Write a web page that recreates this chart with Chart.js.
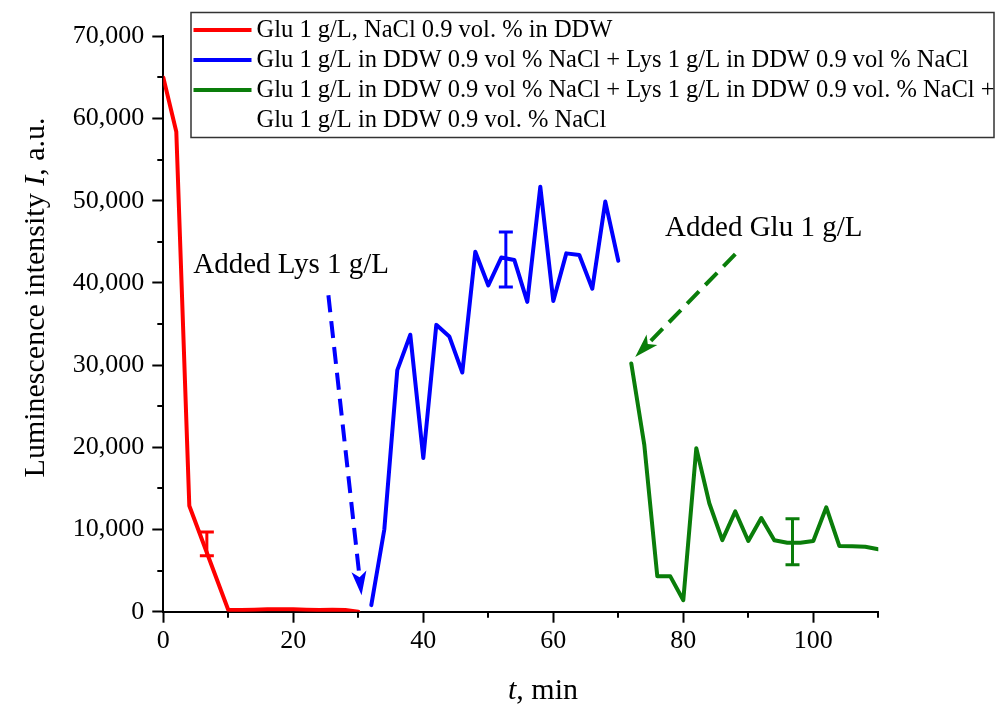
<!DOCTYPE html>
<html>
<head>
<meta charset="utf-8">
<script src="https://cdn.jsdelivr.net/npm/chart.js@4.4.1/dist/chart.umd.min.js"></script>
<style>
    html, body { margin: 0; padding: 0; background: #fff; }
    #chart { display: block; }
</style>
</head>
<body>
<canvas id="chart" width="995" height="713"></canvas>
<script>
// Time points (min) and luminescence intensity (a.u.) for each stage
const tRed = [0, 2, 4, 10, 12, 14, 16, 18, 20, 22, 24, 26, 28, 30];
const iRed = [65000, 58400, 12900, 200, 200, 250, 300, 300, 300, 250, 200, 250, 200, 0];

const tBlue = [32, 34, 36, 38, 40, 42, 44, 46, 48, 50, 52, 54, 56, 58, 60, 62, 64, 66, 68, 70];
const iBlue = [800, 10000, 29400, 33700, 18700, 34900, 33500, 29100, 43800, 39700,
               43100, 42800, 37700, 51700, 37800, 43600, 43400, 39300, 49900, 42700];

const tGreen = [72, 74, 76, 78, 80, 82, 84, 86, 88, 90, 92, 94, 96, 98, 100, 102, 104, 106, 108, 110];
const iGreen = [30200, 20300, 4300, 4300, 1400, 19900, 13200, 8700, 12200, 8600,
                11400, 8700, 8400, 8400, 8600, 12700, 8000, 7950, 7900, 7600];

const seriesLabels = [
    ["Glu 1 g/L, NaCl 0.9 vol. % in DDW"],
    ["Glu 1 g/L in DDW 0.9 vol % NaCl + Lys 1 g/L in DDW 0.9 vol % NaCl"],
    ["Glu 1 g/L in DDW 0.9 vol % NaCl + Lys 1 g/L in DDW 0.9 vol. % NaCl +",
     "Glu 1 g/L in DDW 0.9 vol. % NaCl"]
];

// error bars: which series, time, lower and upper value
const errSeries = [0, 1, 2];
const errT = [6.7, 52.7, 96.8];
const errLow = [6800, 39500, 5700];
const errHigh = [9700, 46200, 11300];

// axis ticks
const xTicks = [0, 20, 40, 60, 80, 100];
const xMinor = [10, 30, 50, 70, 90, 110];
const yTicks = [0, 10000, 20000, 30000, 40000, 50000, 60000, 70000];
const yMinor = [5000, 15000, 25000, 35000, 45000, 55000, 65000];

// annotation texts and arrows (data coordinates)
const noteText = ["Added Lys 1 g/L", "Added Glu 1 g/L"];
const noteT = [4.6, 77.2];
const noteI = [41200, 45700];
const arrowSeries = [1, 2];
const arrowT0 = [25.4, 88.0];
const arrowI0 = [38500, 43500];
const arrowT1 = [30.5, 72.6];
const arrowI1 = [2000, 31000];

const SERIF = '"Liberation Serif", "Times New Roman", serif';
const colors = ["#ff0000", "#0000ff", "#0a7d0a"];

function toPoints(ts, vs) {
    return ts.map((t, i) => ({ x: t, y: vs[i] }));
}

function drawArrow(ctx, x0, y0, x1, y1, color) {
    const ang = Math.atan2(y1 - y0, x1 - x0);
    const headLen = 24, headHalf = 7.5;
    const bx = x1 - Math.cos(ang) * (headLen - 4);
    const by = y1 - Math.sin(ang) * (headLen - 4);
    ctx.save();
    ctx.strokeStyle = color;
    ctx.fillStyle = color;
    ctx.lineWidth = 4;
    ctx.setLineDash([17, 9]);
    ctx.beginPath();
    ctx.moveTo(x0, y0);
    ctx.lineTo(bx, by);
    ctx.stroke();
    ctx.setLineDash([]);
    const cx = x1 - Math.cos(ang) * headLen, cy = y1 - Math.sin(ang) * headLen;
    const nx = -Math.sin(ang), ny = Math.cos(ang);
    ctx.beginPath();
    ctx.moveTo(x1, y1);
    ctx.lineTo(cx + nx * headHalf, cy + ny * headHalf);
    ctx.lineTo(x1 - Math.cos(ang) * (headLen - 6), y1 - Math.sin(ang) * (headLen - 6));
    ctx.lineTo(cx - nx * headHalf, cy - ny * headHalf);
    ctx.closePath();
    ctx.fill();
    ctx.restore();
}

const decorPlugin = {
    id: "decor",
    afterDraw(chart) {
        const ctx = chart.ctx;
        const xs = chart.scales.x, ys = chart.scales.y;
        const area = chart.chartArea;
        ctx.save();

        // minor ticks
        ctx.strokeStyle = "#000";
        ctx.lineWidth = 2;
        xMinor.forEach(v => {
            const px = Math.round(xs.getPixelForValue(v));
            ctx.beginPath();
            ctx.moveTo(px, area.bottom);
            ctx.lineTo(px, area.bottom + 6);
            ctx.stroke();
        });
        yMinor.forEach(v => {
            const py = Math.round(ys.getPixelForValue(v));
            ctx.beginPath();
            ctx.moveTo(area.left, py);
            ctx.lineTo(area.left - 6, py);
            ctx.stroke();
        });

        // error bars
        errSeries.forEach((s, i) => {
            const color = chart.data.datasets[s].borderColor;
            const px = xs.getPixelForValue(errT[i]);
            const pLo = ys.getPixelForValue(errLow[i]);
            const pHi = ys.getPixelForValue(errHigh[i]);
            ctx.strokeStyle = color;
            ctx.lineWidth = 3;
            ctx.beginPath();
            ctx.moveTo(px, pLo); ctx.lineTo(px, pHi);
            ctx.moveTo(px - 7, pLo); ctx.lineTo(px + 7, pLo);
            ctx.moveTo(px - 7, pHi); ctx.lineTo(px + 7, pHi);
            ctx.stroke();
        });

        // arrows
        arrowSeries.forEach((s, i) => {
            drawArrow(ctx,
                xs.getPixelForValue(arrowT0[i]), ys.getPixelForValue(arrowI0[i]),
                xs.getPixelForValue(arrowT1[i]), ys.getPixelForValue(arrowI1[i]),
                chart.data.datasets[s].borderColor);
        });

        // annotation texts
        ctx.fillStyle = "#000";
        ctx.font = "29px " + SERIF;
        ctx.textBaseline = "alphabetic";
        ctx.textAlign = "left";
        noteText.forEach((txt, i) => {
            ctx.fillText(txt, xs.getPixelForValue(noteT[i]), ys.getPixelForValue(noteI[i]));
        });

        // axis titles
        const normal = "30px " + SERIF, italic = "italic 30px " + SERIF;
        ctx.save();
        ctx.translate(43.5, 297.5);
        ctx.rotate(-Math.PI / 2);
        const parts = [["Luminescence intensity ", normal], ["I", italic], [", a.u.", normal]];
        let total = 0;
        parts.forEach(p => { ctx.font = p[1]; total += ctx.measureText(p[0]).width; });
        let cx = -total / 2;
        parts.forEach(p => { ctx.font = p[1]; ctx.fillText(p[0], cx, 0); cx += ctx.measureText(p[0]).width; });
        ctx.restore();

        const xparts = [["t", italic], [", min", normal]];
        total = 0;
        xparts.forEach(p => { ctx.font = p[1]; total += ctx.measureText(p[0]).width; });
        cx = 543 - total / 2;
        xparts.forEach(p => { ctx.font = p[1]; ctx.fillText(p[0], cx, 699); cx += ctx.measureText(p[0]).width; });

        // legend box
        const lx = 191, ly = 12.5, lw = 803, lh = 125;
        ctx.fillStyle = "#fff";
        ctx.fillRect(lx, ly, lw, lh);
        ctx.strokeStyle = "#333";
        ctx.lineWidth = 1.5;
        ctx.strokeRect(lx, ly, lw, lh);
        ctx.font = "24.5px " + SERIF;
        ctx.textBaseline = "middle";
        let row = 0;
        seriesLabels.forEach((lines, s) => {
            const y = 30 + row * 30;
            ctx.strokeStyle = chart.data.datasets[s].borderColor;
            ctx.lineWidth = 4;
            ctx.beginPath();
            ctx.moveTo(193.5, y);
            ctx.lineTo(251.5, y);
            ctx.stroke();
            ctx.fillStyle = "#000";
            lines.forEach((ln, k) => {
                ctx.fillText(ln, 256.5, 30 + (row + k) * 30 + 1);
            });
            row += lines.length;
        });

        ctx.restore();
    }
};

new Chart(document.getElementById("chart"), {
    type: "line",
    data: {
        datasets: [
            { data: toPoints(tRed, iRed), borderColor: colors[0] },
            { data: toPoints(tBlue, iBlue), borderColor: colors[1] },
            { data: toPoints(tGreen, iGreen), borderColor: colors[2] }
        ]
    },
    options: {
        responsive: false,
        animation: false,
        layout: { padding: { left: 0, right: 116.7, top: 36.4, bottom: 0 } },
        elements: {
            line: { borderWidth: 4, tension: 0, borderJoinStyle: "round", borderCapStyle: "round" },
            point: { radius: 0 }
        },
        plugins: {
            legend: { display: false },
            tooltip: { enabled: false }
        },
        scales: {
            x: {
                type: "linear",
                min: 0,
                max: 110,
                afterFit: s => { s.height = 101.3; },
                afterBuildTicks: s => { s.ticks = xTicks.map(v => ({ value: v })); },
                border: { display: true, color: "#000", width: 2 },
                grid: { drawOnChartArea: false, drawTicks: true, tickLength: 11, tickWidth: 2, tickColor: "#000" },
                ticks: {
                    color: "#000",
                    padding: 3,
                    maxRotation: 0,
                    font: { family: SERIF, size: 26 }
                }
            },
            y: {
                type: "linear",
                min: 0,
                max: 70000,
                afterFit: s => { s.width = 163.3; },
                afterBuildTicks: s => { s.ticks = yTicks.map(v => ({ value: v })); },
                border: { display: true, color: "#000", width: 2 },
                grid: { drawOnChartArea: false, drawTicks: true, tickLength: 11, tickWidth: 2, tickColor: "#000" },
                ticks: {
                    color: "#000",
                    padding: 8,
                    font: { family: SERIF, size: 26 },
                    callback: v => v.toLocaleString("en-US")
                }
            }
        }
    },
    plugins: [decorPlugin]
});
</script>
</body>
</html>
